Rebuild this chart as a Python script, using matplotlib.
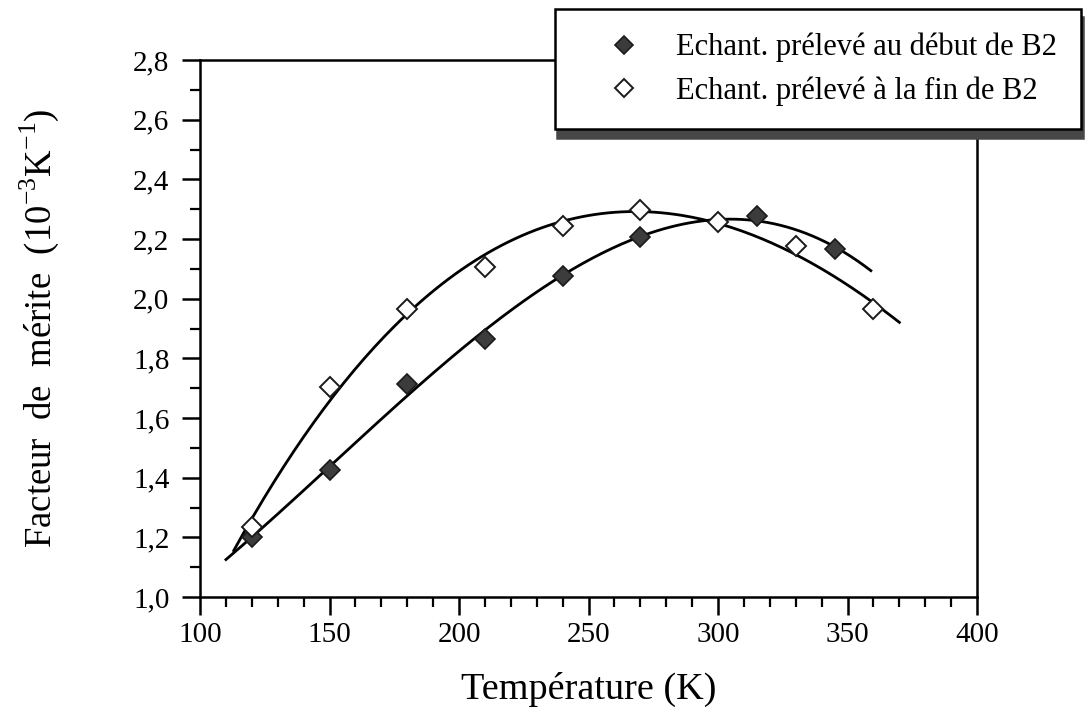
import matplotlib

matplotlib.use("Agg")
import matplotlib.pyplot as plt
import numpy as np

# données
temp_debut = [120, 150, 180, 210, 240, 270, 315, 345]
fm_debut = [1.20, 1.425, 1.714, 1.865, 2.077, 2.206, 2.277, 2.166]
temp_fin = [120, 150, 180, 210, 240, 270, 300, 330, 360]
fm_fin = [1.235, 1.705, 1.967, 2.105, 2.245, 2.297, 2.256, 2.178, 1.967]

# étendue et degré des courbes d'ajustement
fit_debut = (110, 359, 3)
fit_fin = (113, 370, 3)

label_debut = "Echant. prélevé au début de B2"
label_fin = "Echant. prélevé à la fin de B2"

plt.rcParams["font.family"] = ["Liberation Serif", "DejaVu Serif"]
plt.rcParams["mathtext.fontset"] = "custom"
plt.rcParams["mathtext.rm"] = "Liberation Serif"

fig = plt.figure(figsize=(10.89, 7.15), dpi=100)
ax = fig.add_axes([0.1837, 0.165, 0.7135, 0.751])


def fit_curve(x, y, lo, hi, deg):
    coef = np.polyfit(x, y, deg)
    xs = np.linspace(lo, hi, 200)
    return xs, np.polyval(coef, xs)


xs, ys = fit_curve(temp_debut, fm_debut, *fit_debut)
ax.plot(xs, ys, color="black", lw=2.0, zorder=2)
xs, ys = fit_curve(temp_fin, fm_fin, *fit_fin)
ax.plot(xs, ys, color="black", lw=2.0, zorder=2)

ax.plot(temp_debut, fm_debut, "D", ms=10, mfc="#3c3c3c", mec="#1a1a1a",
        mew=1.2, ls="none", label=label_debut, zorder=3)
ax.plot(temp_fin, fm_fin, "D", ms=10, mfc="white", mec="#1a1a1a",
        mew=1.4, ls="none", label=label_fin, zorder=3)

ax.set_xlim(100, 400)
ax.set_ylim(1.0, 2.8)
ax.set_xticks(np.arange(100, 401, 50))
ax.set_xticks(np.arange(100, 401, 10), minor=True)
ax.set_yticks(np.arange(1.0, 2.81, 0.2))
ax.set_yticks(np.arange(1.0, 2.81, 0.1), minor=True)
ax.set_yticklabels([f"{v:.1f}".replace(".", ",") for v in np.arange(1.0, 2.81, 0.2)])

ax.tick_params(axis="both", which="major", direction="out", length=13,
               width=1.8, labelsize=21, top=False, right=False)
ax.tick_params(axis="both", which="minor", direction="out", length=7,
               width=1.6, top=False, right=False)
ax.tick_params(axis="y", which="major", pad=9)
ax.tick_params(axis="x", which="major", pad=5)
for sp in ax.spines.values():
    sp.set_linewidth(1.8)

ax.set_xlabel("Température (K)", fontsize=27.5, labelpad=17)
ax.set_ylabel(r"Facteur  de  mérite  (10$^{\mathregular{-3}}$K$^{\mathregular{-1}}$)",
              fontsize=26.5, labelpad=52)

leg = ax.legend(loc="upper right", bbox_to_anchor=(0.9926, 0.9874),
                bbox_transform=fig.transFigure, fontsize=22, frameon=True,
                fancybox=False,
                shadow={"ox": 1.5, "oy": -6, "color": "0.28", "alpha": 1.0},
                handlelength=3.0, handletextpad=0.2, borderpad=0.78,
                labelspacing=0.45, borderaxespad=0, markerscale=0.9)
leg.get_frame().set_edgecolor("black")
leg.get_frame().set_linewidth(1.8)
leg.set_zorder(5)

fig.savefig("out.png", dpi=100)
